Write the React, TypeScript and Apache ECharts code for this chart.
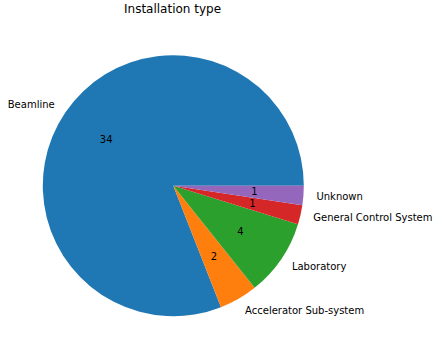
import React, { useEffect, useRef } from "react";
import * as echarts from "echarts";

const categories = ["Beamline", "Accelerator Sub-system", "Laboratory", "General Control System", "Unknown"];
const counts = [34, 2, 4, 1, 1];
const colors = ["#1f77b4", "#ff7f0e", "#2ca02c", "#d62728", "#9467bd"];
const titleText = "Installation type";

const FONT = "DejaVu Sans";
const CX = 173.3;
const CY = 185.7;
const R = 130.5;

export default function App() {
  const ref = useRef<HTMLDivElement>(null);
  useEffect(() => {
    if (!ref.current) return;
    const chart = echarts.init(ref.current, null, { renderer: "svg" });
    const data = categories.map((name, i) => ({
      name,
      value: counts[i],
      itemStyle: { color: colors[i] },
    }));
    chart.setOption({
      animation: false,
      backgroundColor: "#ffffff",
      title: {
        text: titleText,
        left: 124,
        top: 3,
        padding: 0,
        textStyle: { fontFamily: FONT, fontSize: 12, fontWeight: "normal", color: "#000" },
      },
      series: [
        {
          type: "pie",
          center: [CX, CY],
          radius: [0, R],
          startAngle: 0,
          clockwise: false,
          avoidLabelOverlap: false,
          silent: true,
          itemStyle: { borderWidth: 0 },
          data,
          label: {
            show: true,
            position: "outside",
            formatter: "{b}",
            fontFamily: FONT,
            fontSize: 10,
            color: "#000",
            distanceToLabelLine: 0,
          },
          labelLine: { show: false, length: R * 0.1, length2: 0 },
        },
        {
          type: "pie",
          center: [CX, CY],
          radius: [0, R * 1.2],
          startAngle: 0,
          clockwise: false,
          avoidLabelOverlap: false,
          silent: true,
          z: 3,
          itemStyle: { color: "rgba(0,0,0,0)", borderWidth: 0 },
          data: categories.map((name, i) => ({ name, value: counts[i] })),
          label: {
            show: true,
            position: "inside",
            formatter: "{c}",
            fontFamily: FONT,
            fontSize: 10,
            color: "#000",
          },
          labelLine: { show: false },
        },
      ],
    });
    return () => chart.dispose();
  }, []);
  return (
    <div
      ref={ref}
      style={{ position: "fixed", left: 0, top: 0, width: 438, height: 356, background: "#fff" }}
    />
  );
}
